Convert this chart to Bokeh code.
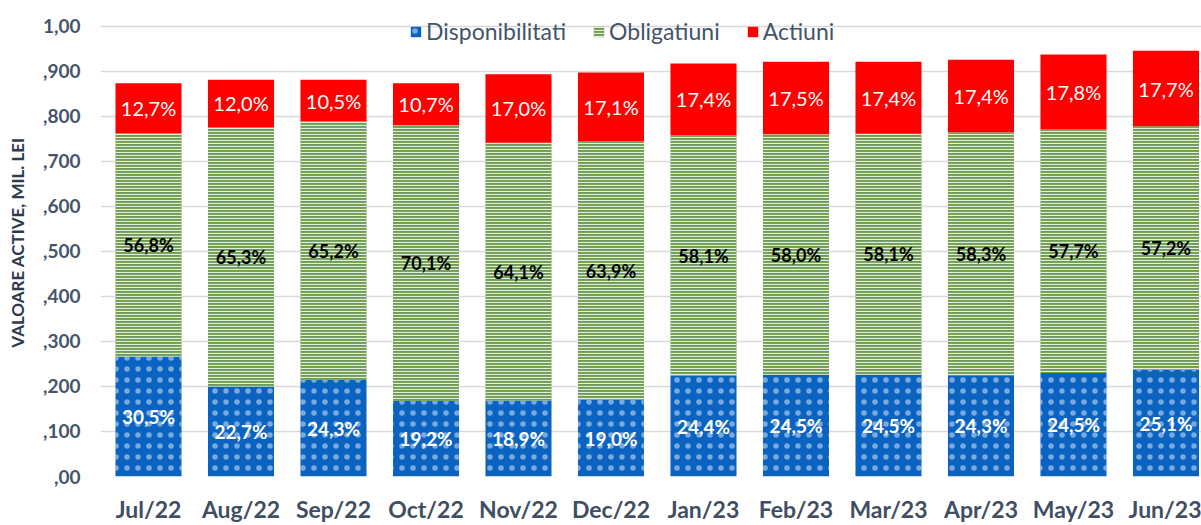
from bokeh.plotting import figure
from bokeh.models import ColumnDataSource, Range1d, FixedTicker, Legend, LegendItem
from bokeh.core.properties import value
from bokeh.embed import file_html
from bokeh.resources import INLINE

months = ["Jul/22", "Aug/22", "Sep/22", "Oct/22", "Nov/22", "Dec/22",
          "Jan/23", "Feb/23", "Mar/23", "Apr/23", "May/23", "Jun/23"]
total = [0.873, 0.881, 0.881, 0.873, 0.893, 0.897, 0.917, 0.921, 0.921, 0.925, 0.937, 0.945]
disp_pct = [30.5, 22.7, 24.3, 19.2, 18.9, 19.0, 24.4, 24.5, 24.5, 24.3, 24.5, 25.1]
oblig_pct = [56.8, 65.3, 65.2, 70.1, 64.1, 63.9, 58.1, 58.0, 58.1, 58.3, 57.7, 57.2]
act_pct = [12.7, 12.0, 10.5, 10.7, 17.0, 17.1, 17.4, 17.5, 17.4, 17.4, 17.8, 17.7]
y_ticks = [0.0, 0.1, 0.2, 0.3, 0.4, 0.5, 0.6, 0.7, 0.8, 0.9, 1.0]
y_tick_labels = [",00", ",100", ",200", ",300", ",400", ",500", ",600", ",700", ",800", ",900", "1,00"]

FONT = "Lato"
x = list(range(len(months)))
disp = [t * p / 100 for t, p in zip(total, disp_pct)]
act = [t * p / 100 for t, p in zip(total, act_pct)]
d_top = disp
o_top = [t - a for t, a in zip(total, act)]

def fmt(v):
    return f"{v:.1f}%".replace(".", ",")

src = ColumnDataSource(dict(
    x=x, d0=[0] * len(x), d1=d_top, o1=o_top, a1=total,
    dm=[b / 2 for b in d_top],
    om=[(a + b) / 2 for a, b in zip(d_top, o_top)],
    am=[(a + b) / 2 for a, b in zip(o_top, total)],
    dl=[fmt(v) for v in disp_pct], ol=[fmt(v) for v in oblig_pct], al=[fmt(v) for v in act_pct],
))

p = figure(width=1201, height=525, output_backend="svg", toolbar_location=None,
           x_range=Range1d(-0.519, 11.384), y_range=Range1d(0, 1.039),
           min_border_left=100, min_border_right=0, min_border_top=8, min_border_bottom=39)
p.outline_line_color = None
p.background_fill_color = "white"

w = 0.714
r_d = p.vbar(x="x", bottom="d0", top="d1", width=w, source=src,
             fill_color="#0B63C1", line_color=None,
             hatch_pattern=".", hatch_color="white", hatch_scale=11, hatch_alpha=0.45)
r_o = p.vbar(x="x", bottom="d1", top="o1", width=w, source=src,
             fill_color="#6E9C52", line_color=None,
             hatch_pattern="-", hatch_color="#E3EDDA", hatch_scale=3, hatch_weight=1.2)
r_a = p.vbar(x="x", bottom="o1", top="a1", width=w, source=src,
             fill_color="#FF0000", line_color=None)

p.text(x="x", y="dm", text="dl", source=src, text_align="center", text_baseline="middle",
       text_color="white", text_font=value(FONT), text_font_style="bold", text_font_size="19px")
p.text(x="x", y="om", text="ol", source=src, text_align="center", text_baseline="middle",
       text_color="black", text_font=value(FONT), text_font_style="bold", text_font_size="18px")
p.text(x="x", y="am", text="al", source=src, text_align="center", text_baseline="middle",
       text_color="white", text_font=value(FONT), text_font_size="20px")

# axes
p.xaxis.ticker = FixedTicker(ticks=x)
p.xaxis.major_label_overrides = {i: m for i, m in zip(x, months)}
p.yaxis.ticker = FixedTicker(ticks=y_ticks)
p.yaxis.major_label_overrides = {t: l for t, l in zip(y_ticks, y_tick_labels)}
for ax in (p.xaxis[0], p.yaxis[0]):
    ax.axis_line_color = None
    ax.major_tick_line_color = None
    ax.minor_tick_line_color = None
    ax.major_label_text_font = FONT
    ax.major_label_text_font_style = "bold"
p.xaxis.major_label_text_font_size = "23px"
p.xaxis.major_label_text_color = "#3F4E63"
p.xaxis.major_label_standoff = 12
p.yaxis.major_label_text_font_size = "19px"
p.yaxis.major_label_text_color = "#44546A"
p.yaxis.major_label_standoff = 14
p.yaxis.axis_label = "VALOARE ACTIVE, MIL. LEI"
p.yaxis.axis_label_text_font = FONT
p.yaxis.axis_label_text_font_style = "bold"
p.yaxis.axis_label_text_font_size = "17px"
p.yaxis.axis_label_text_color = "#2E3B4F"
p.yaxis.axis_label_standoff = 12

p.xgrid.grid_line_color = None
p.ygrid.grid_line_color = "#D9D9D9"
p.ygrid.grid_line_width = 1.5

legend = Legend(items=[
    LegendItem(label="Disponibilitati", renderers=[r_d]),
    LegendItem(label="Obligatiuni", renderers=[r_o]),
    LegendItem(label="Actiuni", renderers=[r_a]),
], orientation="horizontal", location=(307, 429),
    label_text_font=FONT, label_text_font_size="23px", label_text_color="#44546A",
    label_height=24, glyph_width=13, glyph_height=13, label_standoff=4, spacing=26,
    padding=2, margin=0, background_fill_alpha=0, border_line_alpha=0)
p.add_layout(legend, "center")

open("out.html", "w").write(file_html(p, INLINE))
